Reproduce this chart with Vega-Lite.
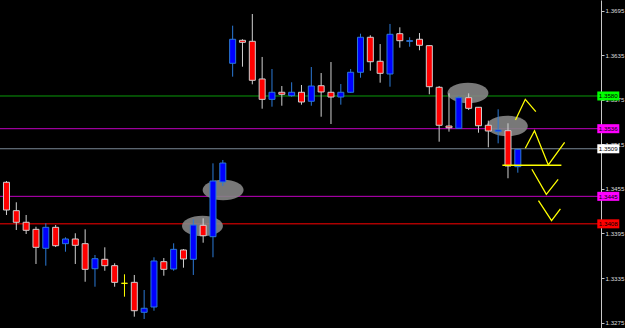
{
  "$schema": "https://vega.github.io/schema/vega-lite/v6.json",
  "width": 601,
  "height": 328,
  "autosize": {"type": "none"},
  "padding": {"left": 0, "top": 0, "right": 24, "bottom": 0},
  "background": "#000000",
  "view": {"stroke": null},
  "datasets": {
    "candles": [
      {"i":0,"o":1.34639,"h":1.34656,"l":1.34199,"c":1.34266,"d":"down"},
      {"i":1,"o":1.34257,"h":1.3437,"l":1.33997,"c":1.34101,"d":"down"},
      {"i":2,"o":1.34101,"h":1.34199,"l":1.33943,"c":1.33993,"d":"down"},
      {"i":3,"o":1.34006,"h":1.34041,"l":1.3354,"c":1.33764,"d":"down"},
      {"i":4,"o":1.33751,"h":1.34087,"l":1.33517,"c":1.34033,"d":"up"},
      {"i":5,"o":1.34033,"h":1.34064,"l":1.33768,"c":1.33786,"d":"down"},
      {"i":6,"o":1.33813,"h":1.33899,"l":1.33705,"c":1.33876,"d":"up"},
      {"i":7,"o":1.33876,"h":1.33953,"l":1.3354,"c":1.33791,"d":"down"},
      {"i":8,"o":1.33813,"h":1.34006,"l":1.33301,"c":1.33468,"d":"down"},
      {"i":9,"o":1.33476,"h":1.33661,"l":1.33234,"c":1.33611,"d":"up"},
      {"i":10,"o":1.33603,"h":1.33764,"l":1.33449,"c":1.33517,"d":"down"},
      {"i":11,"o":1.33517,"h":1.33549,"l":1.33234,"c":1.33293,"d":"down"},
      {"i":12,"o":1.3328,"h":1.33401,"l":1.331,"c":1.3328,"d":"doji"},
      {"i":13,"o":1.33293,"h":1.33392,"l":1.32831,"c":1.32911,"d":"down"},
      {"i":14,"o":1.3289,"h":1.3319,"l":1.328,"c":1.32944,"d":"up"},
      {"i":15,"o":1.32961,"h":1.3363,"l":1.32911,"c":1.3358,"d":"up"},
      {"i":16,"o":1.33571,"h":1.3362,"l":1.33382,"c":1.33468,"d":"down"},
      {"i":17,"o":1.33472,"h":1.33818,"l":1.33449,"c":1.33737,"d":"up"},
      {"i":18,"o":1.33728,"h":1.33741,"l":1.3349,"c":1.33607,"d":"down"},
      {"i":19,"o":1.33603,"h":1.34141,"l":1.33392,"c":1.34064,"d":"up"},
      {"i":20,"o":1.3406,"h":1.34154,"l":1.33826,"c":1.3392,"d":"down"},
      {"i":21,"o":1.33907,"h":1.34894,"l":1.3363,"c":1.34656,"d":"up"},
      {"i":22,"o":1.34643,"h":1.34939,"l":1.34589,"c":1.34898,"d":"up"},
      {"i":23,"o":1.3624,"h":1.36746,"l":1.3606,"c":1.36563,"d":"up"},
      {"i":24,"o":1.36549,"h":1.36563,"l":1.36194,"c":1.36522,"d":"down"},
      {"i":25,"o":1.36536,"h":1.36903,"l":1.35957,"c":1.36011,"d":"down"},
      {"i":26,"o":1.36029,"h":1.36325,"l":1.35629,"c":1.35755,"d":"down"},
      {"i":27,"o":1.35755,"h":1.36163,"l":1.35656,"c":1.3585,"d":"up"},
      {"i":28,"o":1.3585,"h":1.35934,"l":1.35669,"c":1.35823,"d":"down"},
      {"i":29,"o":1.35804,"h":1.35984,"l":1.3579,"c":1.3585,"d":"up"},
      {"i":30,"o":1.3585,"h":1.35948,"l":1.35683,"c":1.35719,"d":"down"},
      {"i":31,"o":1.35729,"h":1.3619,"l":1.35669,"c":1.35934,"d":"up"},
      {"i":32,"o":1.35938,"h":1.36109,"l":1.35521,"c":1.35854,"d":"down"},
      {"i":33,"o":1.3585,"h":1.36257,"l":1.35423,"c":1.35786,"d":"down"},
      {"i":34,"o":1.35786,"h":1.35961,"l":1.35683,"c":1.3585,"d":"up"},
      {"i":35,"o":1.3585,"h":1.36163,"l":1.35845,"c":1.36119,"d":"up"},
      {"i":36,"o":1.36119,"h":1.36638,"l":1.36046,"c":1.3659,"d":"up"},
      {"i":37,"o":1.3659,"h":1.36617,"l":1.3614,"c":1.36261,"d":"down"},
      {"i":38,"o":1.36267,"h":1.36499,"l":1.35979,"c":1.36105,"d":"down"},
      {"i":39,"o":1.36096,"h":1.36769,"l":1.35925,"c":1.3663,"d":"up"},
      {"i":40,"o":1.36638,"h":1.36724,"l":1.3645,"c":1.36544,"d":"down"},
      {"i":41,"o":1.36536,"h":1.3659,"l":1.36463,"c":1.36544,"d":"up"},
      {"i":42,"o":1.36563,"h":1.36647,"l":1.36415,"c":1.36482,"d":"down"},
      {"i":43,"o":1.36477,"h":1.3648,"l":1.35823,"c":1.35925,"d":"down"},
      {"i":44,"o":1.35917,"h":1.35934,"l":1.35185,"c":1.35406,"d":"down"},
      {"i":45,"o":1.35396,"h":1.35836,"l":1.3532,"c":1.35373,"d":"down"},
      {"i":46,"o":1.35365,"h":1.358,"l":1.3536,"c":1.35777,"d":"up"},
      {"i":47,"o":1.35777,"h":1.35836,"l":1.35611,"c":1.35634,"d":"down"},
      {"i":48,"o":1.35648,"h":1.35652,"l":1.35306,"c":1.354,"d":"down"},
      {"i":49,"o":1.35406,"h":1.35468,"l":1.3511,"c":1.35329,"d":"down"},
      {"i":50,"o":1.3532,"h":1.35621,"l":1.35163,"c":1.35342,"d":"up"},
      {"i":51,"o":1.35333,"h":1.35433,"l":1.34693,"c":1.34858,"d":"down"},
      {"i":52,"o":1.34849,"h":1.35083,"l":1.34768,"c":1.35083,"d":"up"}
    ],
    "levels": [
      {"k":"green","v":1.358,"t":"1.3580"},
      {"k":"magenta","v":1.3536,"t":"1.3536"},
      {"k":"grey","v":1.3509,"t":"1.3509"},
      {"k":"magenta","v":1.3445,"t":"1.3445"},
      {"k":"red","v":1.3408,"t":"1.3408"}
    ],
    "ellipses": [
      {"x":19.93,"v":1.34051},
      {"x":22.03,"v":1.34535},
      {"x":46.93,"v":1.3584},
      {"x":50.93,"v":1.35396}
    ],
    "zigzags": [
      {"g":1,"s":1,"x":51.76,"v":1.35477},
      {"g":1,"s":2,"x":52.76,"v":1.35755},
      {"g":1,"s":3,"x":53.83,"v":1.35589},
      {"g":2,"s":1,"x":52.76,"v":1.35096},
      {"g":2,"s":2,"x":53.7,"v":1.35333},
      {"g":2,"s":3,"x":55.1,"v":1.34872},
      {"g":2,"s":4,"x":56.76,"v":1.35177},
      {"g":3,"s":1,"x":50.43,"v":1.34868},
      {"g":3,"s":2,"x":56.43,"v":1.34868},
      {"g":4,"s":1,"x":53.43,"v":1.34814},
      {"g":4,"s":2,"x":54.9,"v":1.34477},
      {"g":4,"s":3,"x":56.1,"v":1.34679},
      {"g":5,"s":1,"x":54.1,"v":1.34391},
      {"g":5,"s":2,"x":55.43,"v":1.34122},
      {"g":5,"s":3,"x":56.33,"v":1.3428}
    ]
  },
  "layer": [
    {
      "data": {"name": "levels"},
      "mark": {"type": "rule", "strokeWidth": 1},
      "encoding": {
        "y": {"field": "v", "type": "quantitative", "title": null,
              "scale": {"domain": [1.326786, 1.370914], "nice": false, "zero": false},
              "axis": {"orient": "right", "values": [1.3275,1.3305,1.3335,1.3365,1.3395,1.3425,1.3455,1.3485,1.3515,1.3545,1.3575,1.3605,1.3635,1.3665,1.3695], "format": ".4f", "grid": false, "zindex": 0, "domainColor": "#c8c8c8", "tickColor": "#c8c8c8", "tickSize": 3, "labelPadding": 1, "labelColor": "#dcdcdc", "labelFont": "Liberation Sans", "labelFontSize": 6.2, "labelOverlap": false, "labelBound": false, "labelFlush": false}},
        "color": {"field": "k", "type": "nominal", "legend": null,
                  "scale": {"domain": ["green","magenta","grey","red"], "range": ["#0a9a0a","#c000c0","#7a8896","#ff0000"]}}
      }
    },
    {
      "data": {"name": "ellipses"},
      "mark": {"type": "point", "filled": true, "shape": "M-1,0A1,0.5,0,1,0,1,0A1,0.5,0,1,0,-1,0Z", "size": 1681, "color": "#858585", "opacity": 0.9, "strokeWidth": 0},
      "encoding": {
        "x": {"field": "x", "type": "quantitative", "axis": null, "scale": {"domain": [-0.15, 59.95], "nice": false, "zero": false}},
        "y": {"field": "v", "type": "quantitative", "title": null}
      }
    },
    {
      "data": {"name": "candles"},
      "mark": {"type": "rule", "strokeWidth": 1},
      "encoding": {
        "x": {"field": "i", "type": "quantitative", "axis": null, "scale": {"domain": [-0.15, 59.95], "nice": false, "zero": false}},
        "y": {"field": "l", "type": "quantitative", "title": null},
        "y2": {"field": "h"},
        "stroke": {"field": "d", "type": "nominal", "legend": null,
                   "scale": {"domain": ["up","down","doji"], "range": ["#2b79d6","#d0d0d0","#ffff00"]}}
      }
    },
    {
      "data": {"name": "candles"},
      "mark": {"type": "bar", "size": 6, "strokeWidth": 1},
      "encoding": {
        "x": {"field": "i", "type": "quantitative", "axis": null, "scale": {"domain": [-0.15, 59.95], "nice": false, "zero": false}},
        "y": {"field": "o", "type": "quantitative", "title": null},
        "y2": {"field": "c"},
        "color": {"field": "d", "type": "nominal", "legend": null,
                  "scale": {"domain": ["up","down","doji"], "range": ["#0000ff","#ff0000","#ffff00"]}},
        "stroke": {"field": "d", "type": "nominal", "legend": null,
                   "scale": {"domain": ["up","down","doji"], "range": ["#2b79d6","#d0d0d0","#ffff00"]}}
      }
    },
    {
      "data": {"name": "zigzags"},
      "mark": {"type": "line", "color": "#ffff00", "strokeWidth": 1.3},
      "encoding": {
        "x": {"field": "x", "type": "quantitative", "axis": null, "scale": {"domain": [-0.15, 59.95], "nice": false, "zero": false}},
        "y": {"field": "v", "type": "quantitative", "title": null},
        "detail": {"field": "g", "type": "nominal"},
        "order": {"field": "s", "type": "quantitative"}
      }
    },
    {
      "data": {"name": "levels"},
      "mark": {"type": "point", "filled": true, "shape": "M-1,-0.41L1,-0.41L1,0.41L-1,0.41Z", "size": 484, "opacity": 1, "strokeWidth": 0},
      "encoding": {
        "x": {"datum": 61.2, "type": "quantitative", "axis": null, "scale": {"domain": [-0.15, 59.95], "nice": false, "zero": false}},
        "y": {"field": "v", "type": "quantitative", "title": null},
        "color": {"field": "k", "type": "nominal", "legend": null,
                  "scale": {"domain": ["green","magenta","grey","red"], "range": ["#00ff00","#ff00ff","#ffffff","#ff0000"]}}
      }
    },
    {
      "data": {"name": "levels"},
      "mark": {"type": "text", "align": "center", "baseline": "middle", "font": "Liberation Sans", "fontSize": 6.2, "color": "#000000", "dy": 0.5},
      "encoding": {
        "x": {"datum": 61.2, "type": "quantitative", "axis": null, "scale": {"domain": [-0.15, 59.95], "nice": false, "zero": false}},
        "y": {"field": "v", "type": "quantitative", "title": null},
        "text": {"field": "t", "type": "nominal"}
      }
    }
  ],
  "resolve": {"scale": {"color": "independent", "stroke": "independent"}}
}
